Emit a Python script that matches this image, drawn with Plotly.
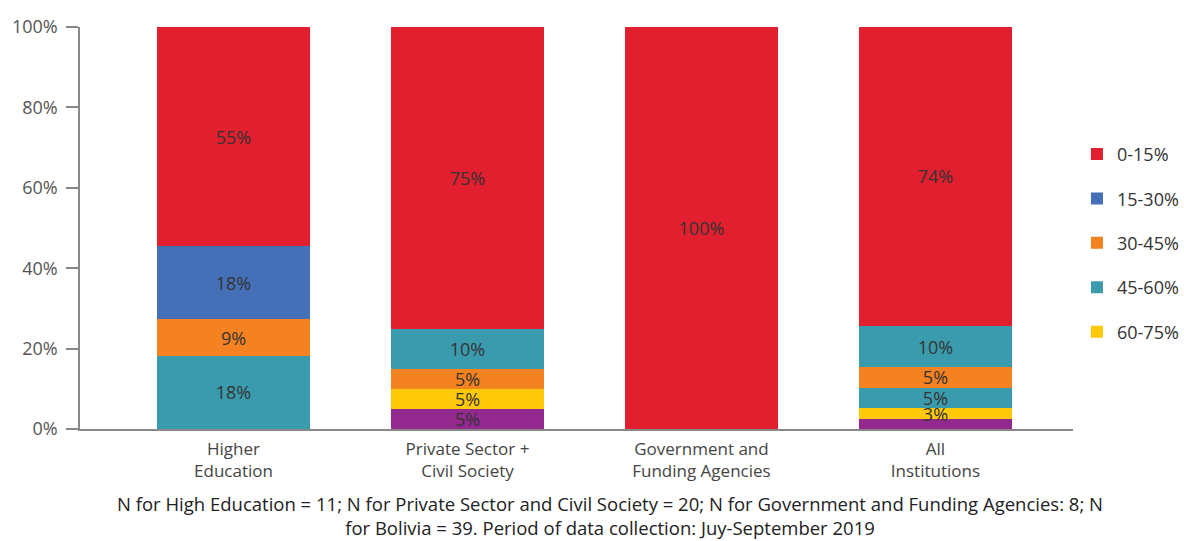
import plotly.graph_objects as go

categories = ["Higher<br>Education", "Private Sector +<br>Civil Society",
              "Government and<br>Funding Agencies", "All<br>Institutions"]

# stacked from bottom to top
purple_other = [0, 5, 0, 2.56]
yellow_60_75 = [0, 5, 0, 2.56]
teal_low_45_60 = [18.18, 0, 0, 5.13]
orange_30_45 = [9.09, 5, 0, 5.13]
teal_up_45_60 = [0, 10, 0, 10.26]
blue_15_30 = [18.18, 0, 0, 0]
red_0_15 = [54.55, 75, 100, 74.36]

C_PURPLE = "#93298E"
C_YELLOW = "#FFC90A"
C_TEAL = "#3B9BAE"
C_ORANGE = "#F58220"
C_BLUE = "#4570B8"
C_RED = "#E11F2F"

FONT = "Open Sans"

fig = go.Figure()

def add(vals, color, name, show, rank, label=True):
    fig.add_trace(go.Bar(
        x=list(range(len(categories))), y=vals, name=name,
        marker=dict(color=color, line=dict(width=0)),
        width=0.654,
        text=[(f"{v:.0f}%" if (v > 0 and label) else "") for v in vals],
        textposition="inside", insidetextanchor="middle",
        textfont=dict(family=FONT, size=18, color="#333333"),
        textangle=0, constraintext="none",
        showlegend=show, legendrank=rank, legendgroup=name,
        hoverinfo="skip",
    ))

add(purple_other, C_PURPLE, "other", False, 10, label=True)
add(yellow_60_75, C_YELLOW, "60-75%", True, 5)
add(teal_low_45_60, C_TEAL, "45-60%", True, 4)
add(orange_30_45, C_ORANGE, "30-45%", True, 3)
add(teal_up_45_60, C_TEAL, "45-60% ", False, 6)
add(blue_15_30, C_BLUE, "15-30%", True, 2)
add(red_0_15, C_RED, "0-15%", True, 1)

# All institutions: the 3% label sits on the yellow; hide purple label there
fig.data[0].text = ("", "5%", "", "")

fig.update_layout(
    barmode="stack",
    width=1184, height=541,
    margin=dict(l=80, r=111, t=27, b=112, autoexpand=False),
    paper_bgcolor="white", plot_bgcolor="white",
    font=dict(family=FONT, size=18, color="#444444"),
    legend=dict(x=1.004, xanchor="left", y=0.463, yanchor="middle",
                traceorder="grouped", tracegroupgap=18,
                font=dict(family=FONT, size=18, color="#333333"),
                itemwidth=30, bgcolor="rgba(0,0,0,0)"),
    xaxis=dict(tickmode="array", tickvals=list(range(len(categories))),
               ticktext=categories, range=[-0.656, 3.588],
               showline=True, linecolor="#888888", linewidth=1.5,
               ticks="", showgrid=False, zeroline=False, ticklabelstandoff=4,
               tickfont=dict(family=FONT, size=17, color="#444444")),
    yaxis=dict(range=[0, 100], tickvals=[0, 20, 40, 60, 80, 100],
               ticktext=["0%", "20%", "40%", "60%", "80%", "100%"],
               showline=True, linecolor="#888888", linewidth=1.5,
               ticks="outside", ticklen=12, tickcolor="#888888", tickwidth=1.5,
               showgrid=False, zeroline=False, ticklabelstandoff=5,
               tickfont=dict(family=FONT, size=18, color="#555555")),
    annotations=[dict(
        text="N for High Education = 11; N for Private Sector and Civil Society = 20; N for Government and Funding Agencies: 8; N<br>for Bolivia = 39. Period of data collection: Juy-September 2019",
        xref="paper", yref="paper", x=(610 - 80) / 993, y=-0.150,
        xanchor="center", yanchor="top", showarrow=False, align="center",
        font=dict(family=FONT, size=18.5, color="#222222"))],
)

fig.write_html("out.html")
